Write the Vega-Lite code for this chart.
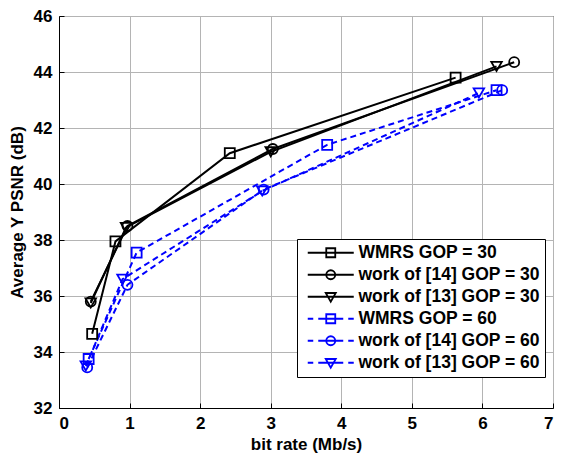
{
  "$schema": "https://vega.github.io/schema/vega-lite/v6.json",
  "autosize": "none",
  "width": 494,
  "height": 392,
  "padding": {"left": 59, "top": 16, "right": 11, "bottom": 47},
  "background": "white",
  "config": {
    "font": "Liberation Sans",
    "view": {"stroke": "black", "strokeWidth": 1},
    "axis": {
      "labelFont": "Liberation Sans", "labelFontSize": 17, "labelFontWeight": "bold", "labelColor": "black",
      "titleFont": "Liberation Sans", "titleFontSize": 17, "titleFontWeight": "bold", "titleColor": "black",
      "domainColor": "black", "tickColor": "black", "gridColor": "#b4b4b4", "gridOpacity": 1, "gridWidth": 1,
      "tickSize": -5, "labelPadding": 12
    }
  },
  "data": {"values": [
    {"series": "WMRS GOP = 30", "rate": 0.47, "psnr": 34.65},
    {"series": "WMRS GOP = 30", "rate": 0.80, "psnr": 37.95},
    {"series": "WMRS GOP = 30", "rate": 2.42, "psnr": 41.1},
    {"series": "WMRS GOP = 30", "rate": 5.62, "psnr": 43.8},
    {"series": "work of [14] GOP = 30", "rate": 0.45, "psnr": 35.8},
    {"series": "work of [14] GOP = 30", "rate": 0.97, "psnr": 38.5},
    {"series": "work of [14] GOP = 30", "rate": 3.03, "psnr": 41.25},
    {"series": "work of [14] GOP = 30", "rate": 6.45, "psnr": 44.35},
    {"series": "work of [13] GOP = 30", "rate": 0.45, "psnr": 35.75},
    {"series": "work of [13] GOP = 30", "rate": 0.95, "psnr": 38.45},
    {"series": "work of [13] GOP = 30", "rate": 3.0, "psnr": 41.15},
    {"series": "work of [13] GOP = 30", "rate": 6.2, "psnr": 44.2},
    {"series": "WMRS GOP = 60", "rate": 0.42, "psnr": 33.75},
    {"series": "WMRS GOP = 60", "rate": 1.1, "psnr": 37.55},
    {"series": "WMRS GOP = 60", "rate": 3.8, "psnr": 41.4},
    {"series": "WMRS GOP = 60", "rate": 6.2, "psnr": 43.35},
    {"series": "work of [14] GOP = 60", "rate": 0.4, "psnr": 33.45},
    {"series": "work of [14] GOP = 60", "rate": 0.97, "psnr": 36.4},
    {"series": "work of [14] GOP = 60", "rate": 2.9, "psnr": 39.8},
    {"series": "work of [14] GOP = 60", "rate": 6.28, "psnr": 43.35},
    {"series": "work of [13] GOP = 60", "rate": 0.38, "psnr": 33.5},
    {"series": "work of [13] GOP = 60", "rate": 0.9, "psnr": 36.6},
    {"series": "work of [13] GOP = 60", "rate": 2.88, "psnr": 39.75},
    {"series": "work of [13] GOP = 60", "rate": 5.95, "psnr": 43.25}
  ]},
  "encoding": {
    "x": {"field": "rate", "type": "quantitative", "scale": {"domain": [0, 7], "nice": false},
          "axis": {"values": [0,1,2,3,4,5,6,7], "format": "d", "title": "bit rate (Mb/s)", "titlePadding": 5}},
    "y": {"field": "psnr", "type": "quantitative", "scale": {"domain": [32, 46], "nice": false, "zero": false},
          "axis": {"values": [32,34,36,38,40,42,44,46], "format": "d", "title": "Average Y PSNR (dB)", "titlePadding": 7}},
    "color": {"field": "series", "type": "nominal",
      "scale": {"domain": ["WMRS GOP = 30", "work of [14] GOP = 30", "work of [13] GOP = 30", "WMRS GOP = 60", "work of [14] GOP = 60", "work of [13] GOP = 60"],
                "range": ["#000000", "#000000", "#000000", "#0000ff", "#0000ff", "#0000ff"]},
      "legend": {
        "orient": "none", "legendX": 238, "legendY": 223, "title": null,
        "strokeColor": "black", "fillColor": "white", "padding": 5,
        "labelFont": "Liberation Sans", "labelFontSize": 17.5, "labelFontWeight": "bold", "labelColor": "black", "labelLimit": 400,
        "symbolSize": 100, "symbolStrokeWidth": 1.8, "symbolOffset": 20, "labelOffset": 19, "rowPadding": 3
      }
    }
  },
  "layer": [
    {
      "transform": [{"filter": {"field": "series", "oneOf": ["WMRS GOP = 30", "work of [14] GOP = 30", "work of [13] GOP = 30"]}}],
      "mark": {"type": "line", "strokeWidth": 2}
    },
    {
      "transform": [{"filter": {"field": "series", "oneOf": ["WMRS GOP = 60", "work of [14] GOP = 60", "work of [13] GOP = 60"]}}],
      "mark": {"type": "line", "strokeWidth": 2, "strokeDash": [6, 4]}
    },
    {
      "transform": [{"filter": {"field": "series", "oneOf": ["WMRS GOP = 30", "WMRS GOP = 60"]}}],
      "mark": {"type": "point", "shape": "square", "filled": false, "strokeWidth": 1.8, "size": 100, "opacity": 1}
    },
    {
      "transform": [{"filter": {"field": "series", "oneOf": ["work of [14] GOP = 30", "work of [14] GOP = 60"]}}],
      "mark": {"type": "point", "shape": "circle", "filled": false, "strokeWidth": 1.8, "size": 100, "opacity": 1}
    },
    {
      "transform": [{"filter": {"field": "series", "oneOf": ["work of [13] GOP = 30", "work of [13] GOP = 60"]}}],
      "mark": {"type": "point", "shape": "triangle-down", "filled": false, "strokeWidth": 1.8, "size": 110, "opacity": 1}
    },
    {
      "transform": [{"filter": "datum.rate > 100"}],
      "mark": {"type": "point", "filled": false, "strokeWidth": 1.8, "size": 100, "opacity": 1},
      "encoding": {
        "shape": {"field": "series", "type": "nominal",
          "scale": {"domain": ["WMRS GOP = 30", "work of [14] GOP = 30", "work of [13] GOP = 30", "WMRS GOP = 60", "work of [14] GOP = 60", "work of [13] GOP = 60"],
                    "range": [
                      "M-4.6,0H4.6M-0.9,-0.9H0.9V0.9H-0.9Z",
                      "M-4.6,0H4.6M-0.9,0A0.9,0.9 0 1,1 0.9,0A0.9,0.9 0 1,1 -0.9,0Z",
                      "M-4.6,0H4.6M-1,-0.75H1L0,1Z",
                      "M-4.6,0H-3.5M-2.5,0H2.5M3.5,0H4.6M-0.9,-0.9H0.9V0.9H-0.9Z",
                      "M-4.6,0H-3.5M-2.5,0H2.5M3.5,0H4.6M-0.9,0A0.9,0.9 0 1,1 0.9,0A0.9,0.9 0 1,1 -0.9,0Z",
                      "M-4.6,0H-3.5M-2.5,0H2.5M3.5,0H4.6M-1,-0.75H1L0,1Z"
                    ]},
          "legend": {
            "orient": "none", "legendX": 238, "legendY": 223, "title": null,
            "strokeColor": "black", "fillColor": "white", "padding": 5,
            "labelFont": "Liberation Sans", "labelFontSize": 17.5, "labelFontWeight": "bold", "labelColor": "black", "labelLimit": 400,
            "symbolSize": 100, "symbolStrokeWidth": 1.8, "symbolOffset": 20, "labelOffset": 19, "rowPadding": 3
          }}
      }
    }
  ]
}
